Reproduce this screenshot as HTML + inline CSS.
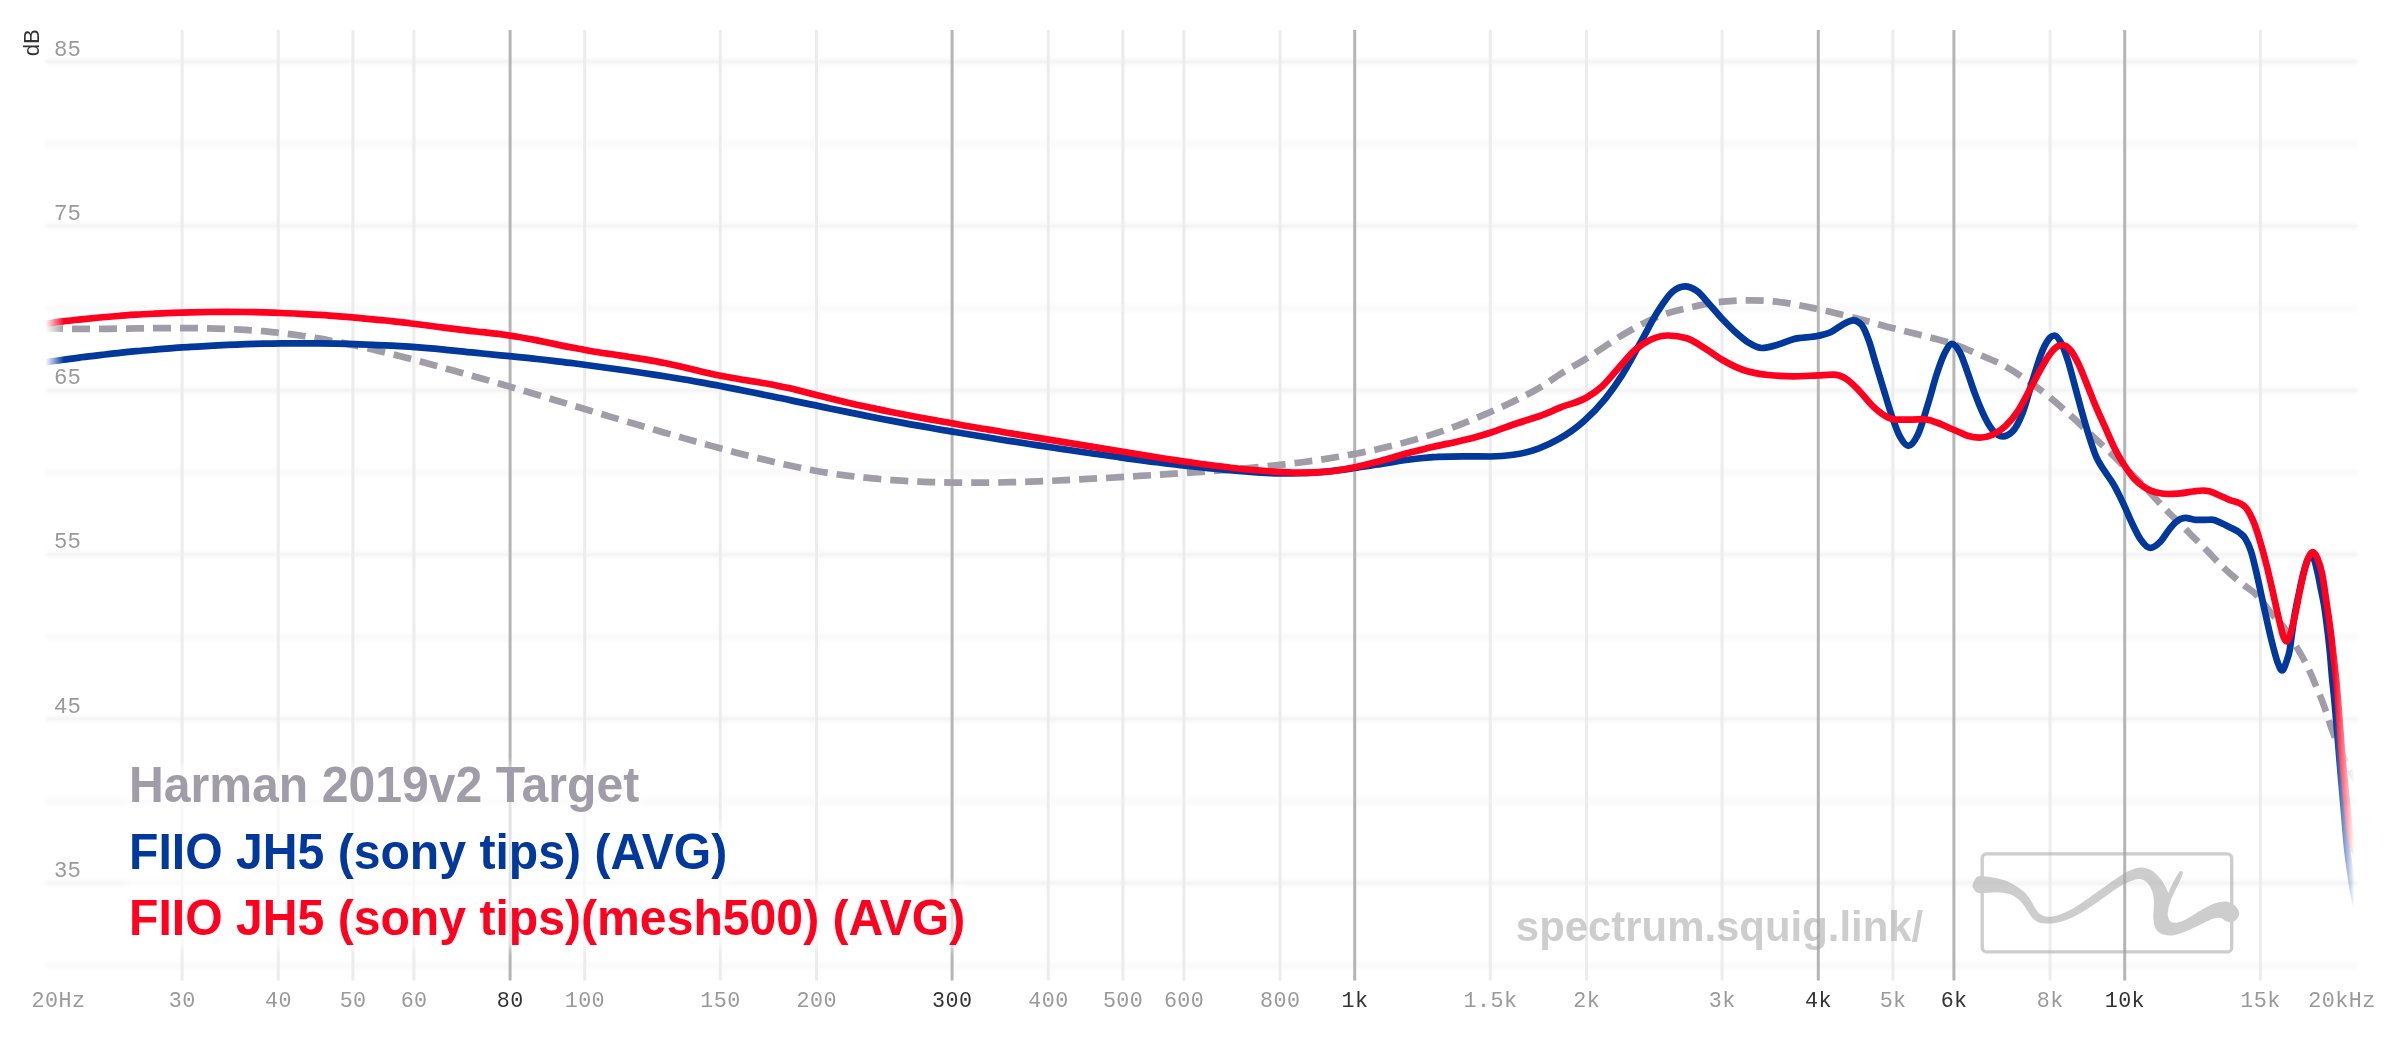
<!DOCTYPE html><html><head><meta charset="utf-8"><title>graph</title><style>html,body{margin:0;padding:0;background:#fff}svg{display:block;will-change:transform}text{font-family:"Liberation Sans",sans-serif}.m{font-family:"Liberation Mono",monospace}</style></head><body>
<svg width="2400" height="1038" viewBox="0 0 2400 1038">
<defs>
<linearGradient id="fg" gradientUnits="userSpaceOnUse" x1="0" y1="0" x2="2400" y2="0"><stop offset="0.01896" stop-color="#fff" stop-opacity="0"/><stop offset="0.02667" stop-color="#fff" stop-opacity="1"/><stop offset="0.97250" stop-color="#fff" stop-opacity="1"/><stop offset="0.98104" stop-color="#fff" stop-opacity="0"/></linearGradient>
<mask id="fm" maskUnits="userSpaceOnUse" x="0" y="0" width="2400" height="1038"><rect x="45" y="0" width="2309" height="1038" fill="url(#fg)"/></mask>
<filter id="bl" x="-5%" y="-400%" width="110%" height="900%"><feGaussianBlur stdDeviation="1.6"/></filter>
<filter id="bl0" x="-5%" y="-400%" width="110%" height="900%"><feGaussianBlur stdDeviation="1.0"/></filter>
<filter id="bl2" x="-5%" y="-20%" width="110%" height="140%"><feGaussianBlur stdDeviation="4"/></filter>
</defs>
<rect width="2400" height="1038" fill="#fff"/>
<g stroke="#000" stroke-linecap="round">
<g stroke-opacity="0.013" stroke-width="10" filter="url(#bl)">
<line x1="50" x2="2354" y1="965.4" y2="965.4"/>
<line x1="50" x2="2354" y1="883.2" y2="883.2"/>
<line x1="50" x2="2354" y1="801.1" y2="801.1"/>
<line x1="50" x2="2354" y1="718.9" y2="718.9"/>
<line x1="50" x2="2354" y1="636.8" y2="636.8"/>
<line x1="50" x2="2354" y1="554.6" y2="554.6"/>
<line x1="50" x2="2354" y1="472.4" y2="472.4"/>
<line x1="50" x2="2354" y1="390.3" y2="390.3"/>
<line x1="50" x2="2354" y1="308.1" y2="308.1"/>
<line x1="50" x2="2354" y1="226.0" y2="226.0"/>
<line x1="50" x2="2354" y1="143.9" y2="143.9"/>
<line x1="50" x2="2354" y1="61.7" y2="61.7"/>
</g>
<g stroke-width="3.2" filter="url(#bl0)">
<line x1="47.5" x2="2356" y1="965.4" y2="965.4" stroke-opacity="0.012"/>
<line x1="47.5" x2="2356" y1="883.2" y2="883.2" stroke-opacity="0.034"/>
<line x1="47.5" x2="2356" y1="801.1" y2="801.1" stroke-opacity="0.012"/>
<line x1="47.5" x2="2356" y1="718.9" y2="718.9" stroke-opacity="0.034"/>
<line x1="47.5" x2="2356" y1="636.8" y2="636.8" stroke-opacity="0.012"/>
<line x1="47.5" x2="2356" y1="554.6" y2="554.6" stroke-opacity="0.034"/>
<line x1="47.5" x2="2356" y1="472.4" y2="472.4" stroke-opacity="0.012"/>
<line x1="47.5" x2="2356" y1="390.3" y2="390.3" stroke-opacity="0.034"/>
<line x1="47.5" x2="2356" y1="308.1" y2="308.1" stroke-opacity="0.012"/>
<line x1="47.5" x2="2356" y1="226.0" y2="226.0" stroke-opacity="0.034"/>
<line x1="47.5" x2="2356" y1="143.9" y2="143.9" stroke-opacity="0.012"/>
<line x1="47.5" x2="2356" y1="61.7" y2="61.7" stroke-opacity="0.034"/>
</g>
</g>
<g stroke-width="3.0">
<line x1="182.1" x2="182.1" y1="30" y2="980.5" stroke="#ececec"/>
<line x1="278.3" x2="278.3" y1="30" y2="980.5" stroke="#ececec"/>
<line x1="352.9" x2="352.9" y1="30" y2="980.5" stroke="#ececec"/>
<line x1="413.9" x2="413.9" y1="30" y2="980.5" stroke="#ececec"/>
<line x1="510.1" x2="510.1" y1="30" y2="980.5" stroke="#b5b5b5"/>
<line x1="584.7" x2="584.7" y1="30" y2="980.5" stroke="#ececec"/>
<line x1="720.3" x2="720.3" y1="30" y2="980.5" stroke="#ececec"/>
<line x1="816.5" x2="816.5" y1="30" y2="980.5" stroke="#ececec"/>
<line x1="952.1" x2="952.1" y1="30" y2="980.5" stroke="#b5b5b5"/>
<line x1="1048.3" x2="1048.3" y1="30" y2="980.5" stroke="#ececec"/>
<line x1="1122.9" x2="1122.9" y1="30" y2="980.5" stroke="#ececec"/>
<line x1="1183.9" x2="1183.9" y1="30" y2="980.5" stroke="#ececec"/>
<line x1="1280.1" x2="1280.1" y1="30" y2="980.5" stroke="#ececec"/>
<line x1="1354.7" x2="1354.7" y1="30" y2="980.5" stroke="#b5b5b5"/>
<line x1="1490.3" x2="1490.3" y1="30" y2="980.5" stroke="#ececec"/>
<line x1="1586.5" x2="1586.5" y1="30" y2="980.5" stroke="#ececec"/>
<line x1="1722.1" x2="1722.1" y1="30" y2="980.5" stroke="#ececec"/>
<line x1="1818.3" x2="1818.3" y1="30" y2="980.5" stroke="#b5b5b5"/>
<line x1="1892.9" x2="1892.9" y1="30" y2="980.5" stroke="#ececec"/>
<line x1="1953.9" x2="1953.9" y1="30" y2="980.5" stroke="#b5b5b5"/>
<line x1="2050.1" x2="2050.1" y1="30" y2="980.5" stroke="#ececec"/>
<line x1="2124.7" x2="2124.7" y1="30" y2="980.5" stroke="#b5b5b5"/>
<line x1="2260.3" x2="2260.3" y1="30" y2="980.5" stroke="#ececec"/>
</g>
<g font-size="22.3" fill="#999" letter-spacing="1.1">
<text x="54.4" y="55.5">85</text>
<text x="54.4" y="219.8">75</text>
<text x="54.4" y="384.1">65</text>
<text x="54.4" y="548.4">55</text>
<text x="54.4" y="712.7">45</text>
<text x="54.4" y="877.0">35</text>
</g>
<text transform="translate(38.6,56.3) rotate(-90)" font-size="22.2" fill="#333">dB</text>
<g class="m" font-size="21.7" letter-spacing="0.45" text-anchor="middle">
<text class="m" x="58.5" y="1007" fill="#999">20Hz</text>
<text class="m" x="182.3" y="1007" fill="#999">30</text>
<text class="m" x="278.5" y="1007" fill="#999">40</text>
<text class="m" x="353.1" y="1007" fill="#999">50</text>
<text class="m" x="414.1" y="1007" fill="#999">60</text>
<text class="m" x="510.3" y="1007" fill="#333">80</text>
<text class="m" x="584.9" y="1007" fill="#999">100</text>
<text class="m" x="720.5" y="1007" fill="#999">150</text>
<text class="m" x="816.7" y="1007" fill="#999">200</text>
<text class="m" x="952.3" y="1007" fill="#333">300</text>
<text class="m" x="1048.5" y="1007" fill="#999">400</text>
<text class="m" x="1123.1" y="1007" fill="#999">500</text>
<text class="m" x="1184.1" y="1007" fill="#999">600</text>
<text class="m" x="1280.3" y="1007" fill="#999">800</text>
<text class="m" x="1354.9" y="1007" fill="#333">1k</text>
<text class="m" x="1490.5" y="1007" fill="#999">1.5k</text>
<text class="m" x="1586.7" y="1007" fill="#999">2k</text>
<text class="m" x="1722.3" y="1007" fill="#999">3k</text>
<text class="m" x="1818.5" y="1007" fill="#333">4k</text>
<text class="m" x="1893.1" y="1007" fill="#999">5k</text>
<text class="m" x="1954.1" y="1007" fill="#333">6k</text>
<text class="m" x="2050.3" y="1007" fill="#999">8k</text>
<text class="m" x="2124.9" y="1007" fill="#333">10k</text>
<text class="m" x="2260.5" y="1007" fill="#999">15k</text>
<text class="m" x="2342" y="1007" fill="#999">20kHz</text>
</g>
<g opacity="0.55">
<text x="1923.2" y="941.3" font-size="41.9" font-weight="bold" text-anchor="end" fill="#a5a5a5">spectrum.squig.link/</text>
<rect x="1982.2" y="853.9" width="249.5" height="98" rx="4.5" fill="none" stroke="#a5a5a5" stroke-width="3.4"/>
<path d="M1972.7,884.7C1973.1,883.1,1974.2,880.0,1975.5,878.5C1976.8,877.0,1977.0,876.0,1980.5,875.9C1984.0,875.8,1991.2,876.9,1996.2,878.1C2001.2,879.3,2006.3,880.8,2010.7,882.9C2015.1,885.0,2019.6,888.0,2022.8,890.7C2026.0,893.4,2028.1,896.4,2030.1,899.2C2032.1,902.0,2033.3,905.3,2034.9,907.7C2036.5,910.1,2037.7,912.2,2039.7,913.7C2041.7,915.2,2044.2,916.4,2047.0,916.7C2049.8,917.0,2053.1,916.5,2056.7,915.5C2060.3,914.5,2064.7,912.7,2068.7,910.7C2072.7,908.7,2076.8,906.0,2080.8,903.4C2084.8,900.8,2088.9,897.8,2092.9,895.0C2096.9,892.2,2101.0,889.3,2105.0,886.5C2109.0,883.7,2113.5,880.5,2117.1,878.1C2120.7,875.7,2123.7,873.6,2126.7,872.0C2129.7,870.4,2132.4,869.1,2135.2,868.4C2138.0,867.7,2140.9,867.4,2143.7,867.8C2146.5,868.2,2149.5,869.2,2152.1,870.8C2154.7,872.4,2157.2,874.9,2159.4,877.5C2161.6,880.1,2163.9,884.0,2165.4,886.5C2166.9,889.0,2167.6,892.3,2168.4,892.6C2169.2,892.9,2169.1,890.6,2170.2,888.3C2171.3,886.0,2173.6,881.5,2175.1,878.7C2176.6,875.9,2178.3,873.0,2179.3,871.7C2180.3,870.5,2180.5,871.1,2181.1,871.2C2181.7,871.4,2183.1,871.0,2182.9,872.6C2182.7,874.2,2181.2,878.1,2179.9,881.1C2178.6,884.1,2176.6,887.5,2175.1,890.7C2173.6,893.9,2171.9,897.4,2170.8,900.4C2169.7,903.4,2168.9,906.5,2168.4,908.9C2167.9,911.3,2167.6,913.0,2167.8,914.9C2168.0,916.8,2168.6,919.1,2169.6,920.4C2170.6,921.7,2172.0,922.6,2173.9,922.8C2175.8,923.0,2178.5,922.5,2181.1,921.6C2183.7,920.7,2186.6,919.0,2189.6,917.3C2192.6,915.6,2196.0,913.2,2199.2,911.3C2202.4,909.4,2205.7,907.4,2208.9,905.9C2212.1,904.4,2215.4,902.9,2218.6,902.2C2221.8,901.5,2225.4,901.3,2228.2,901.9C2231.0,902.5,2233.7,904.1,2235.5,905.9C2237.3,907.7,2238.8,910.4,2239.1,912.5C2239.4,914.6,2238.5,916.9,2237.3,918.5C2236.1,920.1,2233.8,921.8,2231.9,922.2C2230.0,922.6,2227.6,921.7,2225.8,921.0C2224.0,920.3,2223.0,918.3,2221.0,917.9C2219.0,917.5,2216.5,917.7,2213.7,918.5C2210.9,919.3,2207.3,921.3,2204.1,922.8C2200.9,924.3,2197.6,926.1,2194.4,927.6C2191.2,929.1,2187.9,930.6,2184.7,931.8C2181.5,933.0,2178.3,934.3,2175.1,934.9C2171.9,935.5,2168.2,935.6,2165.4,935.1C2162.6,934.6,2160.0,933.3,2158.2,931.8C2156.4,930.2,2155.3,928.2,2154.5,925.8C2153.7,923.4,2153.4,920.7,2153.3,917.3C2153.2,913.9,2153.9,908.9,2153.9,905.3C2153.9,901.7,2153.8,898.4,2153.3,895.6C2152.8,892.8,2152.0,890.5,2150.9,888.3C2149.8,886.1,2148.3,883.8,2146.7,882.3C2145.1,880.8,2143.3,879.7,2141.2,879.3C2139.1,878.9,2136.6,879.2,2134.0,879.9C2131.4,880.6,2128.3,882.1,2125.5,883.5C2122.7,884.9,2120.5,886.1,2117.1,888.3C2113.7,890.5,2109.0,894.0,2105.0,896.8C2101.0,899.6,2096.9,902.6,2092.9,905.3C2088.9,908.0,2084.8,910.8,2080.8,913.1C2076.8,915.4,2072.7,917.5,2068.7,919.1C2064.7,920.7,2060.3,922.0,2056.7,922.8C2053.1,923.5,2050.0,923.7,2047.0,923.6C2044.0,923.5,2040.9,923.2,2038.5,922.2C2036.1,921.2,2034.3,919.7,2032.5,917.9C2030.7,916.1,2029.3,913.6,2027.7,911.3C2026.1,909.0,2024.6,906.2,2022.8,904.0C2021.0,901.8,2019.2,899.7,2016.8,898.0C2014.4,896.3,2011.7,894.8,2008.3,893.8C2004.9,892.8,2000.2,892.3,1996.2,892.2C1992.2,892.1,1987.4,893.1,1984.2,893.2C1981.0,893.3,1978.7,893.4,1976.9,892.6C1975.1,891.8,1974.0,889.6,1973.3,888.3C1972.6,887.0,1972.3,886.3,1972.7,884.7Z" fill="#a5a5a5"/>
</g>
<g mask="url(#fm)" fill="none" stroke-width="6.7" stroke-linejoin="round">
<path d="M45.0,328.3C51.1,328.4,57.1,328.6,63.2,328.7C69.3,328.8,75.4,328.8,81.4,328.8C87.5,328.8,93.6,328.8,99.7,328.8C105.7,328.8,111.8,328.7,117.9,328.6C124.0,328.6,130.0,328.5,136.1,328.4C142.2,328.3,148.3,328.2,154.3,328.2C160.4,328.1,166.5,328.1,172.6,328.1C178.6,328.1,184.7,328.1,190.8,328.1C196.9,328.1,202.9,328.2,209.0,328.4C215.1,328.5,221.2,328.7,227.2,328.9C233.3,329.2,239.4,329.5,245.5,329.9C251.5,330.2,257.6,330.7,263.7,331.2C269.8,331.8,275.8,332.4,281.9,333.1C288.0,333.8,294.1,334.6,300.1,335.5C306.2,336.4,312.3,337.4,318.4,338.4C324.4,339.4,330.5,340.6,336.6,341.8C342.7,342.9,348.7,344.2,354.8,345.5C360.9,346.8,367.0,348.2,373.0,349.6C379.1,351.0,385.2,352.5,391.2,354.0C397.3,355.5,403.4,357.0,409.5,358.6C415.5,360.2,421.6,361.8,427.7,363.4C433.8,365.1,439.8,366.7,445.9,368.4C452.0,370.1,458.1,371.7,464.1,373.5C470.2,375.2,476.3,376.9,482.4,378.7C488.4,380.4,494.5,382.2,500.6,383.9C506.7,385.7,512.7,387.5,518.8,389.3C524.9,391.1,531.0,392.9,537.0,394.7C543.1,396.5,549.2,398.3,555.3,400.2C561.3,402.0,567.4,403.8,573.5,405.6C579.6,407.5,585.6,409.3,591.7,411.1C597.8,412.9,603.9,414.8,609.9,416.6C616.0,418.4,622.1,420.2,628.2,422.0C634.2,423.8,640.3,425.6,646.4,427.4C652.5,429.2,658.5,430.9,664.6,432.7C670.7,434.4,676.8,436.2,682.8,437.9C688.9,439.6,695.0,441.3,701.1,443.0C707.1,444.7,713.2,446.4,719.3,448.0C725.4,449.7,731.4,451.3,737.5,452.9C743.6,454.4,749.6,456.0,755.7,457.5C761.8,459.0,767.9,460.5,773.9,462.0C780.0,463.4,786.1,464.8,792.2,466.1C798.2,467.4,804.3,468.7,810.4,469.8C816.5,471.0,822.5,472.0,828.6,473.0C834.7,474.0,840.8,474.8,846.8,475.6C852.9,476.4,859.0,477.1,865.1,477.7C871.1,478.4,877.2,478.9,883.3,479.4C889.4,479.9,895.4,480.3,901.5,480.7C907.6,481.1,913.7,481.4,919.7,481.6C925.8,481.9,931.9,482.1,938.0,482.3C944.0,482.4,950.1,482.6,956.2,482.6C962.3,482.7,968.3,482.7,974.4,482.7C980.5,482.7,986.6,482.6,992.6,482.6C998.7,482.5,1004.8,482.4,1010.9,482.2C1016.9,482.1,1023.0,481.9,1029.1,481.7C1035.2,481.5,1041.2,481.2,1047.3,481.0C1053.4,480.7,1059.5,480.4,1065.5,480.1C1071.6,479.9,1077.7,479.5,1083.8,479.2C1089.8,478.9,1095.9,478.5,1102.0,478.2C1108.0,477.9,1114.1,477.5,1120.2,477.1C1126.3,476.8,1132.3,476.4,1138.4,476.0C1144.5,475.7,1150.6,475.3,1156.6,474.9C1162.7,474.5,1168.8,474.1,1174.9,473.7C1180.9,473.3,1187.0,472.9,1193.1,472.4C1199.2,472.0,1205.2,471.6,1211.3,471.1C1217.4,470.6,1223.5,470.1,1229.5,469.6C1235.6,469.1,1241.7,468.6,1247.8,468.1C1253.8,467.5,1259.9,467.0,1266.0,466.3C1272.1,465.7,1278.1,465.1,1284.2,464.4C1290.3,463.7,1296.4,463.0,1302.4,462.2C1308.5,461.4,1314.6,460.6,1320.7,459.7C1326.7,458.8,1332.8,457.8,1338.9,456.8C1345.0,455.7,1351.0,454.6,1357.1,453.5C1363.2,452.3,1369.3,451.0,1375.3,449.7C1381.4,448.3,1387.5,446.9,1393.6,445.4C1399.6,443.9,1405.7,442.3,1411.8,440.6C1417.9,438.8,1423.9,437.0,1430.0,435.1C1435.6,433.3,1441.1,431.5,1446.7,429.5C1461.2,424.4,1475.8,418.3,1490.3,412.0C1498.0,408.6,1505.6,405.3,1513.3,401.5C1524.4,396.1,1535.6,390.4,1546.7,383.3C1551.1,380.4,1555.6,377.1,1560.0,374.2C1568.9,368.4,1577.8,363.8,1586.7,358.3C1600.0,350.1,1613.4,340.1,1626.7,332.5C1637.8,326.2,1648.9,320.1,1660.0,315.8C1671.1,311.5,1682.2,309.1,1693.3,306.7C1703.0,304.6,1712.8,302.6,1722.5,301.7C1732.2,300.8,1742.0,300.3,1751.7,300.3C1760.0,300.3,1768.4,300.8,1776.7,301.7C1790.6,303.1,1804.4,306.3,1818.3,309.2C1832.2,312.1,1846.1,315.6,1860.0,319.2C1871.1,322.1,1882.2,325.4,1893.3,328.3C1905.5,331.5,1917.8,334.2,1930.0,337.5C1937.5,339.5,1945.0,341.3,1952.5,343.8C1961.7,346.9,1970.8,351.1,1980.0,355.0C1988.4,358.6,1996.7,361.7,2005.1,366.3C2013.5,370.9,2021.8,376.7,2030.2,382.6C2036.9,387.3,2043.5,392.2,2050.2,397.6C2056.9,403.0,2063.6,409.1,2070.3,415.2C2077.0,421.3,2083.6,427.8,2090.3,434.0C2097.0,440.2,2103.6,446.2,2110.3,452.7C2115.3,457.6,2120.3,462.8,2125.3,467.8C2132.0,474.5,2138.7,480.9,2145.4,487.8C2152.1,494.7,2158.7,502.2,2165.4,509.1C2172.1,516.0,2178.7,522.4,2185.4,529.1C2192.1,535.8,2198.8,542.4,2205.5,549.2C2211.4,555.1,2217.2,561.6,2223.1,567.2C2229.3,573.1,2235.4,578.3,2241.6,583.4C2247.0,587.9,2252.4,590.3,2257.8,596.1C2261.7,600.3,2265.5,606.3,2269.4,611.1C2274.8,617.7,2280.2,622.0,2285.6,629.6C2289.5,635.0,2293.3,641.6,2297.2,648.1C2300.3,653.3,2303.3,658.3,2306.4,664.4C2309.5,670.6,2312.6,677.8,2315.7,685.2C2318.8,692.5,2321.8,699.7,2324.9,708.3C2327.1,714.6,2329.4,722.4,2331.6,728.6C2335.5,739.4,2339.3,748.1,2343.2,756.4C2345.9,762.2,2348.6,767.4,2351.3,772.5C2353.2,776.1,2355.1,779.6,2357.0,783.0" stroke="#a09da8" stroke-dasharray="18 9"/>
<path d="M45.0,362.4C51.1,361.5,57.1,360.6,63.2,359.8C69.3,358.9,75.4,358.1,81.4,357.3C87.5,356.5,93.6,355.8,99.7,355.1C105.7,354.4,111.8,353.7,117.9,353.1C124.0,352.4,130.0,351.8,136.1,351.2C142.2,350.6,148.3,350.1,154.3,349.6C160.4,349.0,166.5,348.6,172.6,348.1C178.6,347.7,184.7,347.2,190.8,346.9C196.9,346.5,202.9,346.1,209.0,345.8C215.1,345.5,221.2,345.2,227.2,344.9C233.3,344.7,239.4,344.4,245.5,344.2C251.5,344.0,257.6,343.9,263.7,343.7C269.8,343.6,275.8,343.5,281.9,343.4C288.0,343.4,294.1,343.3,300.1,343.3C306.2,343.3,312.3,343.4,318.4,343.4C324.4,343.5,330.5,343.6,336.6,343.7C342.7,343.8,348.7,343.9,354.8,344.1C360.9,344.3,367.0,344.5,373.0,344.8C379.1,345.0,385.2,345.3,391.2,345.6C397.3,346.0,403.4,346.3,409.5,346.7C415.5,347.2,421.6,347.6,427.7,348.1C433.8,348.6,439.8,349.2,445.9,349.8C452.0,350.4,458.1,351.0,464.1,351.6C470.2,352.3,476.3,352.9,482.4,353.5C488.4,354.1,494.5,354.7,500.6,355.3C506.7,355.9,512.7,356.5,518.8,357.1C524.9,357.7,531.0,358.3,537.0,359.0C543.1,359.6,549.2,360.3,555.3,361.1C561.3,361.8,567.4,362.5,573.5,363.3C579.6,364.1,585.6,364.9,591.7,365.7C597.8,366.6,603.9,367.4,609.9,368.3C616.0,369.1,622.1,370.0,628.2,370.8C634.2,371.7,640.3,372.6,646.4,373.5C652.5,374.4,658.5,375.3,664.6,376.2C670.7,377.2,676.8,378.2,682.8,379.2C688.9,380.2,695.0,381.3,701.1,382.4C707.1,383.5,713.2,384.6,719.3,385.8C725.4,387.0,731.4,388.2,737.5,389.4C743.6,390.6,749.6,391.8,755.7,393.0C761.8,394.3,767.9,395.5,773.9,396.8C780.0,398.0,786.1,399.3,792.2,400.6C798.2,401.8,804.3,403.1,810.4,404.4C816.5,405.6,822.5,406.9,828.6,408.2C834.7,409.4,840.8,410.7,846.8,411.9C852.9,413.2,859.0,414.4,865.1,415.6C871.1,416.8,877.2,418.0,883.3,419.2C889.4,420.3,895.4,421.5,901.5,422.6C907.6,423.8,913.7,424.9,919.7,425.9C925.8,427.0,931.9,428.1,938.0,429.2C944.0,430.2,950.1,431.3,956.2,432.3C962.3,433.3,968.3,434.3,974.4,435.3C980.5,436.3,986.6,437.3,992.6,438.2C998.7,439.2,1004.8,440.2,1010.9,441.1C1016.9,442.1,1023.0,443.0,1029.1,444.0C1035.2,444.9,1041.2,445.8,1047.3,446.7C1053.4,447.7,1059.5,448.6,1065.5,449.5C1071.6,450.4,1077.7,451.3,1083.8,452.2C1089.8,453.1,1095.9,454.0,1102.0,454.8C1108.0,455.7,1114.1,456.6,1120.2,457.4C1126.3,458.3,1132.3,459.1,1138.4,459.9C1144.5,460.7,1150.6,461.5,1156.6,462.2C1162.7,463.0,1168.8,463.7,1174.9,464.5C1180.9,465.2,1187.0,465.9,1193.1,466.5C1199.2,467.2,1205.2,467.9,1211.3,468.5C1217.4,469.1,1223.5,469.7,1229.5,470.2C1235.6,470.8,1241.7,471.3,1247.8,471.7C1253.8,472.2,1259.9,472.6,1266.0,472.9C1272.1,473.1,1278.1,473.4,1284.2,473.4C1290.3,473.4,1296.4,473.3,1302.4,473.2C1308.5,473.1,1314.6,472.6,1320.7,472.1C1326.7,471.6,1332.8,470.9,1338.9,470.1C1345.0,469.4,1351.0,468.5,1357.1,467.7C1363.2,466.8,1369.3,465.8,1375.3,464.8C1381.4,463.9,1387.5,462.9,1393.6,461.9C1399.6,461.0,1405.7,460.1,1411.8,459.3C1417.9,458.5,1423.9,457.9,1430.0,457.4C1432.8,457.2,1435.5,456.9,1438.3,456.8C1446.6,456.5,1455.0,456.4,1463.3,456.4C1472.3,456.4,1481.3,456.5,1490.3,456.5C1498.0,456.5,1505.6,456.0,1513.3,454.8C1521.6,453.6,1530.0,451.7,1538.3,448.6C1545.0,446.1,1551.8,443.1,1558.5,439.2C1566.7,434.5,1575.0,429.0,1583.2,421.7C1590.7,415.1,1598.1,407.6,1605.6,398.3C1611.1,391.4,1616.7,383.7,1622.2,375.0C1628.5,365.1,1634.7,352.9,1641.0,341.7C1646.7,331.5,1652.5,319.7,1658.2,310.8C1663.0,303.4,1667.7,295.8,1672.5,291.7C1676.7,288.1,1680.8,286.3,1685.0,286.3C1688.9,286.3,1692.8,288.1,1696.7,290.8C1701.1,293.9,1705.6,300.1,1710.0,305.0C1714.2,309.6,1718.3,314.8,1722.5,319.2C1726.7,323.6,1730.8,327.9,1735.0,331.7C1739.4,335.7,1743.9,339.8,1748.3,342.5C1752.8,345.2,1757.2,348.0,1761.7,348.0C1766.7,348.0,1771.7,346.4,1776.7,345.0C1782.2,343.5,1787.8,340.7,1793.3,339.2C1801.6,337.0,1810.0,337.8,1818.3,335.8C1822.2,334.9,1826.1,334.2,1830.0,332.5C1834.4,330.5,1838.9,326.4,1843.3,324.2C1846.6,322.6,1850.0,320.3,1853.3,320.3C1856.1,320.3,1858.9,321.9,1861.7,325.0C1864.2,327.8,1866.7,334.6,1869.2,341.7C1871.2,347.4,1873.2,355.1,1875.2,361.7C1878.1,371.2,1880.9,380.7,1883.8,390.0C1886.7,399.5,1889.7,410.0,1892.6,418.3C1895.1,425.3,1897.5,432.2,1900.0,436.7C1902.8,441.8,1905.5,445.8,1908.3,445.8C1911.4,445.8,1914.6,441.3,1917.7,435.0C1921.4,427.6,1925.0,413.6,1928.7,401.7C1931.5,392.7,1934.2,381.6,1937.0,373.3C1939.5,365.7,1942.1,358.2,1944.6,353.3C1947.1,348.5,1949.5,343.8,1952.0,343.8C1954.7,343.8,1957.3,347.6,1960.0,352.6C1962.5,357.4,1965.1,365.6,1967.6,372.6C1970.1,379.4,1972.5,387.3,1975.0,393.9C1977.5,400.7,1980.1,407.2,1982.6,412.7C1985.9,419.9,1989.3,426.2,1992.6,430.2C1995.9,434.2,1999.3,436.5,2002.6,436.5C2005.9,436.5,2009.3,434.8,2012.6,431.4C2016.0,428.0,2019.3,421.3,2022.7,412.7C2026.0,404.2,2029.4,390.5,2032.7,380.1C2036.0,369.7,2039.4,357.6,2042.7,350.1C2045.2,344.5,2047.7,339.8,2050.2,337.5C2051.6,336.2,2053.1,335.5,2054.5,335.5C2056.4,335.5,2058.3,338.2,2060.2,341.3C2062.7,345.4,2065.2,352.4,2067.7,360.0C2070.2,367.7,2072.8,378.3,2075.3,387.6C2077.8,396.7,2080.3,406.4,2082.8,415.2C2085.3,424.0,2087.8,432.6,2090.3,440.2C2092.4,446.6,2094.5,452.9,2096.6,457.7C2099.1,463.4,2101.6,466.3,2104.1,470.3C2107.4,475.6,2110.8,479.5,2114.1,485.3C2117.4,491.1,2120.8,498.2,2124.1,505.3C2126.7,510.9,2129.3,517.5,2131.9,522.9C2134.7,528.8,2137.6,535.0,2140.4,539.1C2143.7,543.9,2147.1,547.9,2150.4,547.9C2153.7,547.9,2157.1,544.9,2160.4,541.6C2163.7,538.3,2167.1,531.6,2170.4,527.9C2173.7,524.1,2177.1,520.7,2180.4,519.1C2182.1,518.3,2183.7,517.8,2185.4,517.8C2188.8,517.8,2192.1,519.8,2195.5,519.8C2198.8,519.8,2202.2,519.8,2205.5,519.8C2207.5,519.8,2209.6,519.7,2211.6,519.7C2214.7,519.7,2217.7,521.5,2220.8,522.8C2223.9,524.1,2227.0,525.8,2230.1,527.4C2233.2,529.0,2236.2,530.0,2239.3,532.5C2241.2,534.1,2243.2,535.2,2245.1,538.3C2247.0,541.4,2249.0,545.2,2250.9,551.0C2253.2,558.0,2255.5,568.8,2257.8,578.7C2260.1,588.8,2262.5,600.6,2264.8,611.1C2267.1,621.4,2269.4,632.1,2271.7,641.2C2273.6,648.8,2275.6,656.9,2277.5,662.0C2279.0,665.9,2280.5,670.4,2282.0,670.4C2283.6,670.4,2285.2,665.3,2286.8,660.5C2287.8,657.6,2288.7,655.6,2289.7,650.1C2290.3,646.5,2291.0,641.1,2291.6,636.6C2292.6,629.7,2293.5,621.9,2294.5,615.8C2296.0,606.1,2297.6,599.9,2299.1,592.6C2300.6,585.3,2302.2,577.5,2303.7,571.8C2305.2,566.2,2306.7,561.2,2308.2,558.5C2309.2,556.7,2310.3,555.5,2311.3,555.5C2312.4,555.5,2313.4,557.6,2314.5,560.5C2315.7,563.8,2316.9,569.6,2318.1,575.1C2319.1,579.7,2320.1,585.1,2321.1,590.1C2322.1,595.1,2323.1,598.9,2324.1,605.2C2324.8,609.6,2325.5,614.8,2326.2,620.2C2327.4,629.1,2328.5,638.1,2329.7,650.1C2330.6,659.0,2331.4,671.4,2332.3,680.2C2332.8,685.6,2333.4,689.7,2333.9,695.0C2334.8,704.0,2335.7,714.6,2336.6,725.1C2337.4,734.8,2338.3,745.0,2339.1,755.2C2339.5,760.1,2339.9,765.2,2340.3,770.0C2341.4,783.3,2342.5,794.9,2343.6,807.6C2344.7,819.9,2345.7,834.4,2346.8,845.0C2348.1,857.9,2349.4,866.2,2350.7,875.1C2352.0,883.7,2353.2,891.5,2354.5,897.6C2355.6,903.0,2356.8,906.9,2357.9,910.4C2359.3,914.7,2360.6,917.3,2362.0,920.0" stroke="#00389c"/>
<path d="M45.0,323.7C51.1,322.9,57.1,322.1,63.2,321.4C69.3,320.6,75.4,320.0,81.4,319.3C87.5,318.7,93.6,318.1,99.7,317.5C105.7,317.0,111.8,316.5,117.9,316.0C124.0,315.5,130.0,315.1,136.1,314.7C142.2,314.3,148.3,314.0,154.3,313.7C160.4,313.3,166.5,313.1,172.6,312.9C178.6,312.6,184.7,312.4,190.8,312.3C196.9,312.1,202.9,312.0,209.0,312.0C215.1,311.9,221.2,311.9,227.2,311.9C233.3,311.9,239.4,311.9,245.5,312.0C251.5,312.1,257.6,312.2,263.7,312.4C269.8,312.6,275.8,312.8,281.9,313.0C288.0,313.2,294.1,313.5,300.1,313.8C306.2,314.1,312.3,314.5,318.4,314.8C324.4,315.2,330.5,315.6,336.6,316.1C342.7,316.6,348.7,317.0,354.8,317.6C360.9,318.1,367.0,318.7,373.0,319.3C379.1,319.8,385.2,320.5,391.2,321.1C397.3,321.8,403.4,322.5,409.5,323.2C415.5,324.0,421.6,324.7,427.7,325.5C433.8,326.3,439.8,327.1,445.9,327.9C452.0,328.6,458.1,329.4,464.1,330.1C470.2,330.9,476.3,331.5,482.4,332.2C488.4,332.9,494.5,333.5,500.6,334.3C506.7,335.1,512.7,336.0,518.8,337.0C524.9,338.0,531.0,339.2,537.0,340.4C543.1,341.6,549.2,342.9,555.3,344.1C561.3,345.4,567.4,346.7,573.5,347.8C579.6,349.0,585.6,350.1,591.7,351.2C597.8,352.2,603.9,353.1,609.9,354.0C616.0,355.0,622.1,355.8,628.2,356.8C634.2,357.7,640.3,358.6,646.4,359.6C652.5,360.7,658.5,361.8,664.6,363.0C670.7,364.2,676.8,365.6,682.8,367.0C688.9,368.4,695.0,370.0,701.1,371.4C707.1,372.8,713.2,374.2,719.3,375.5C725.4,376.7,731.4,377.8,737.5,378.8C743.6,379.9,749.6,380.8,755.7,381.8C761.8,382.9,767.9,383.8,773.9,385.0C780.0,386.2,786.1,387.4,792.2,388.8C798.2,390.3,804.3,391.9,810.4,393.5C816.5,395.0,822.5,396.6,828.6,398.1C834.7,399.6,840.8,401.0,846.8,402.4C852.9,403.8,859.0,405.2,865.1,406.5C871.1,407.8,877.2,409.1,883.3,410.4C889.4,411.6,895.4,412.8,901.5,414.0C907.6,415.2,913.7,416.3,919.7,417.5C925.8,418.6,931.9,419.7,938.0,420.8C944.0,421.9,950.1,423.0,956.2,424.0C962.3,425.1,968.3,426.2,974.4,427.2C980.5,428.3,986.6,429.3,992.6,430.3C998.7,431.4,1004.8,432.4,1010.9,433.4C1016.9,434.4,1023.0,435.4,1029.1,436.4C1035.2,437.4,1041.2,438.4,1047.3,439.4C1053.4,440.4,1059.5,441.4,1065.5,442.4C1071.6,443.4,1077.7,444.4,1083.8,445.4C1089.8,446.4,1095.9,447.4,1102.0,448.4C1108.0,449.3,1114.1,450.3,1120.2,451.3C1126.3,452.3,1132.3,453.3,1138.4,454.3C1144.5,455.3,1150.6,456.3,1156.6,457.3C1162.7,458.2,1168.8,459.2,1174.9,460.1C1180.9,461.0,1187.0,461.9,1193.1,462.8C1199.2,463.7,1205.2,464.5,1211.3,465.3C1217.4,466.1,1223.5,466.9,1229.5,467.5C1235.6,468.2,1241.7,468.9,1247.8,469.5C1253.8,470.0,1259.9,470.6,1266.0,471.0C1272.1,471.5,1278.1,471.9,1284.2,472.1C1290.3,472.4,1296.4,472.6,1302.4,472.6C1308.5,472.6,1314.6,472.5,1320.7,472.1C1326.7,471.8,1332.8,471.1,1338.9,470.2C1345.0,469.3,1351.0,468.1,1357.1,466.8C1363.2,465.5,1369.3,464.0,1375.3,462.3C1381.4,460.7,1387.5,458.9,1393.6,457.2C1399.6,455.5,1405.7,453.7,1411.8,452.1C1417.9,450.5,1423.9,449.1,1430.0,447.6C1435.6,446.3,1441.1,445.1,1446.7,443.9C1455.0,442.0,1463.4,440.5,1471.7,438.3C1477.9,436.6,1484.1,434.8,1490.3,432.8C1498.0,430.3,1505.6,427.2,1513.3,424.5C1524.4,420.6,1535.6,417.8,1546.7,413.3C1551.1,411.6,1555.6,409.4,1560.0,407.6C1568.9,403.9,1577.8,402.8,1586.7,397.5C1591.7,394.5,1596.7,391.2,1601.7,386.7C1607.2,381.7,1612.8,374.4,1618.3,368.3C1623.9,362.2,1629.4,354.8,1635.0,350.0C1640.0,345.7,1645.0,342.4,1650.0,340.0C1656.1,337.1,1662.2,335.5,1668.3,335.5C1674.4,335.5,1680.6,336.4,1686.7,338.3C1692.8,340.2,1698.9,344.6,1705.0,348.3C1710.8,351.9,1716.7,356.6,1722.5,360.0C1729.4,364.0,1736.4,367.6,1743.3,370.0C1751.6,372.9,1760.0,374.1,1768.3,375.0C1776.6,375.9,1785.0,376.3,1793.3,376.3C1801.6,376.3,1810.0,375.6,1818.3,375.3C1823.3,375.1,1828.3,374.7,1833.3,374.7C1837.8,374.7,1842.2,376.3,1846.7,379.2C1851.1,382.0,1855.6,387.1,1860.0,391.7C1864.4,396.3,1868.9,402.5,1873.3,406.7C1877.2,410.4,1881.1,413.6,1885.0,415.8C1888.9,418.0,1892.8,419.7,1896.7,419.7C1901.1,419.7,1905.6,419.7,1910.0,419.7C1914.4,419.7,1918.9,419.2,1923.3,419.2C1927.8,419.2,1932.2,421.0,1936.7,422.5C1940.6,423.8,1944.4,425.8,1948.3,427.5C1952.2,429.2,1956.1,430.8,1960.0,432.5C1962.5,433.6,1965.1,434.9,1967.6,435.7C1971.8,437.0,1975.9,437.7,1980.1,437.7C1984.3,437.7,1988.4,436.6,1992.6,434.7C1996.8,432.8,2000.9,430.3,2005.1,426.4C2009.3,422.5,2013.5,417.7,2017.7,411.4C2021.9,405.2,2026.0,396.6,2030.2,388.9C2033.5,382.8,2036.9,376.0,2040.2,370.1C2043.5,364.3,2046.9,358.0,2050.2,353.8C2052.7,350.6,2055.2,347.6,2057.7,346.3C2059.4,345.4,2061.0,345.0,2062.7,345.0C2065.2,345.0,2067.8,347.0,2070.3,350.0C2072.8,352.9,2075.3,357.6,2077.8,362.6C2080.3,367.6,2082.8,374.1,2085.3,380.1C2088.6,388.1,2092.0,397.2,2095.3,405.1C2098.6,413.0,2102.0,420.2,2105.3,427.7C2108.3,434.4,2111.3,441.7,2114.3,447.7C2117.6,454.4,2121.0,460.1,2124.3,465.3C2127.7,470.5,2131.0,475.3,2134.4,479.0C2138.1,483.0,2141.7,485.5,2145.4,487.8C2148.7,489.9,2152.1,491.4,2155.4,492.3C2159.6,493.4,2163.7,494.0,2167.9,494.0C2172.1,494.0,2176.2,493.7,2180.4,493.3C2184.6,492.9,2188.8,492.0,2193.0,491.5C2196.3,491.1,2199.7,490.5,2203.0,490.5C2205.1,490.5,2207.2,490.8,2209.3,491.3C2212.4,492.0,2215.4,493.7,2218.5,495.0C2222.4,496.6,2226.2,498.6,2230.1,500.1C2233.2,501.3,2236.2,501.4,2239.3,503.1C2241.6,504.4,2244.0,505.2,2246.3,508.2C2248.6,511.2,2250.9,515.4,2253.2,520.9C2255.5,526.5,2257.9,533.9,2260.2,541.7C2262.5,549.4,2264.8,557.9,2267.1,567.2C2269.4,576.5,2271.7,587.2,2274.0,597.3C2275.9,605.8,2277.9,614.8,2279.8,622.7C2281.0,627.5,2282.1,633.2,2283.3,636.4C2284.4,639.3,2285.4,641.5,2286.5,641.5C2287.7,641.5,2288.8,638.4,2290.0,635.3C2291.6,630.9,2293.3,623.2,2294.9,615.8C2296.4,608.9,2298.0,599.9,2299.5,592.6C2301.0,585.3,2302.6,577.7,2304.1,571.8C2305.6,565.9,2307.2,560.5,2308.7,557.2C2310.0,554.4,2311.3,552.2,2312.6,552.2C2314.1,552.2,2315.7,554.5,2317.2,557.9C2318.9,561.6,2320.5,565.6,2322.2,574.1C2323.5,580.7,2324.8,590.8,2326.1,599.6C2327.6,610.0,2329.2,619.9,2330.7,632.0C2331.9,641.2,2333.0,651.6,2334.2,662.0C2335.0,668.8,2335.7,674.9,2336.5,682.9C2337.6,694.7,2338.8,710.8,2339.9,725.1C2340.7,735.0,2341.5,746.1,2342.2,755.2C2342.7,760.4,2343.2,765.2,2343.6,770.0C2344.9,783.7,2346.2,795.2,2347.4,807.6C2348.3,815.8,2349.2,825.8,2350.0,832.0C2350.9,838.5,2351.8,841.4,2352.7,845.0C2354.4,851.9,2356.2,854.1,2357.9,857.0C2359.3,859.3,2360.6,860.7,2362.0,862.0" stroke="#ff001e"/>
</g>
<g fill="#fff" fill-opacity="0.62" filter="url(#bl2)">
<rect x="126" y="765" width="516" height="58"/>
<rect x="126" y="823" width="603" height="62"/>
<rect x="126" y="885" width="840" height="64"/>
</g>
<g font-size="48.15" font-weight="bold">
<text transform="translate(129,802.4) scale(1,1.045)" x="0" y="0" fill="#a09da8">Harman 2019v2 Target</text>
<text transform="translate(129,868.6) scale(1,1.045)" x="0" y="0" fill="#00389c">FIIO JH5 (sony tips) (AVG)</text>
<text transform="translate(129,934.7) scale(1,1.045)" x="0" y="0" fill="#ff001e">FIIO JH5 (sony tips)(mesh500) (AVG)</text>
</g>
</svg></body></html>
